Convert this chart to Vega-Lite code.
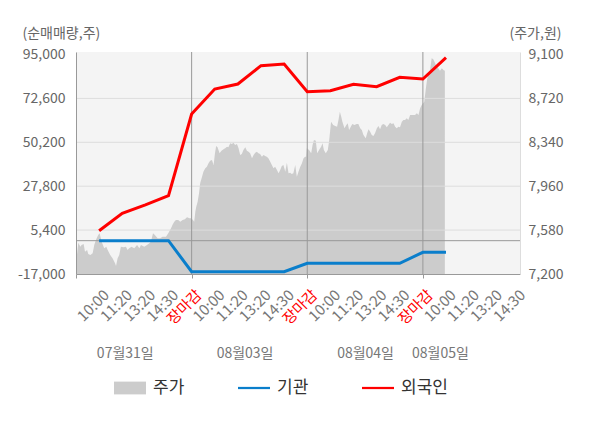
{
  "$schema": "https://vega.github.io/schema/vega-lite/v6.json",
  "width": 444,
  "height": 222,
  "autosize": {"type": "none"},
  "padding": {"left": 76, "top": 52, "right": 80, "bottom": 154},
  "config": {"font": "Noto Sans CJK KR", "view": {"stroke": null, "fill": "#f4f4f4"}},
  "datasets": {
    "price": [
      {"t": 0, "p": 7290}, {"t": 0.1, "p": 7471}, {"t": 0.19, "p": 7436}, {"t": 0.24, "p": 7451},
      {"t": 0.33, "p": 7460}, {"t": 0.39, "p": 7393}, {"t": 0.48, "p": 7408}, {"t": 0.53, "p": 7373},
      {"t": 0.62, "p": 7364}, {"t": 0.72, "p": 7379}, {"t": 0.79, "p": 7451}, {"t": 0.86, "p": 7494},
      {"t": 0.96, "p": 7538}, {"t": 1.02, "p": 7552}, {"t": 1.11, "p": 7480}, {"t": 1.22, "p": 7422},
      {"t": 1.31, "p": 7436}, {"t": 1.37, "p": 7408}, {"t": 1.48, "p": 7364}, {"t": 1.58, "p": 7336},
      {"t": 1.69, "p": 7293}, {"t": 1.73, "p": 7269}, {"t": 1.8, "p": 7336}, {"t": 1.87, "p": 7364},
      {"t": 1.94, "p": 7436}, {"t": 2.06, "p": 7431}, {"t": 2.16, "p": 7436}, {"t": 2.23, "p": 7408},
      {"t": 2.3, "p": 7422}, {"t": 2.4, "p": 7436}, {"t": 2.52, "p": 7422}, {"t": 2.64, "p": 7451},
      {"t": 2.74, "p": 7422}, {"t": 2.81, "p": 7451}, {"t": 2.95, "p": 7436}, {"t": 3.07, "p": 7451},
      {"t": 3.17, "p": 7466}, {"t": 3.24, "p": 7480}, {"t": 3.33, "p": 7552}, {"t": 3.41, "p": 7538},
      {"t": 3.53, "p": 7509}, {"t": 3.64, "p": 7509}, {"t": 3.74, "p": 7523}, {"t": 3.89, "p": 7523},
      {"t": 3.99, "p": 7552}, {"t": 4.11, "p": 7596}, {"t": 4.17, "p": 7624}, {"t": 4.25, "p": 7653},
      {"t": 4.32, "p": 7667}, {"t": 4.42, "p": 7667}, {"t": 4.51, "p": 7653}, {"t": 4.61, "p": 7667},
      {"t": 4.71, "p": 7673}, {"t": 4.8, "p": 7691}, {"t": 4.91, "p": 7682}, {"t": 4.97, "p": 7682},
      {"t": 5.06, "p": 7667}, {"t": 5.11, "p": 7653}, {"t": 5.16, "p": 7739}, {"t": 5.2, "p": 7783},
      {"t": 5.26, "p": 7826}, {"t": 5.32, "p": 7899}, {"t": 5.37, "p": 7985}, {"t": 5.45, "p": 8042},
      {"t": 5.51, "p": 8086}, {"t": 5.59, "p": 8115}, {"t": 5.66, "p": 8129}, {"t": 5.73, "p": 8158},
      {"t": 5.8, "p": 8181}, {"t": 5.88, "p": 8187}, {"t": 5.95, "p": 8144}, {"t": 6.01, "p": 8245},
      {"t": 6.06, "p": 8308}, {"t": 6.12, "p": 8297}, {"t": 6.21, "p": 8245}, {"t": 6.29, "p": 8267},
      {"t": 6.38, "p": 8279}, {"t": 6.45, "p": 8288}, {"t": 6.53, "p": 8302}, {"t": 6.59, "p": 8297},
      {"t": 6.67, "p": 8331}, {"t": 6.74, "p": 8325}, {"t": 6.81, "p": 8337}, {"t": 6.88, "p": 8317},
      {"t": 6.96, "p": 8325}, {"t": 7.03, "p": 8288}, {"t": 7.1, "p": 8230}, {"t": 7.17, "p": 8239},
      {"t": 7.24, "p": 8273}, {"t": 7.32, "p": 8297}, {"t": 7.39, "p": 8267}, {"t": 7.46, "p": 8259},
      {"t": 7.53, "p": 8245}, {"t": 7.61, "p": 8202}, {"t": 7.68, "p": 8230}, {"t": 7.75, "p": 8250},
      {"t": 7.82, "p": 8259}, {"t": 7.89, "p": 8245}, {"t": 7.96, "p": 8239}, {"t": 8.04, "p": 8215},
      {"t": 8.11, "p": 8230}, {"t": 8.18, "p": 8221}, {"t": 8.25, "p": 8215}, {"t": 8.32, "p": 8202},
      {"t": 8.4, "p": 8172}, {"t": 8.47, "p": 8144}, {"t": 8.54, "p": 8115}, {"t": 8.61, "p": 8129},
      {"t": 8.69, "p": 8100}, {"t": 8.76, "p": 8072}, {"t": 8.83, "p": 8100}, {"t": 8.9, "p": 8135},
      {"t": 8.97, "p": 8144}, {"t": 9.05, "p": 8086}, {"t": 9.12, "p": 8163}, {"t": 9.19, "p": 8072},
      {"t": 9.26, "p": 8077}, {"t": 9.33, "p": 8066}, {"t": 9.4, "p": 8072}, {"t": 9.48, "p": 8144},
      {"t": 9.55, "p": 8042}, {"t": 9.62, "p": 8086}, {"t": 9.69, "p": 8124}, {"t": 9.77, "p": 8158},
      {"t": 9.84, "p": 8202}, {"t": 9.91, "p": 8215}, {"t": 9.95, "p": 8215}, {"t": 9.98, "p": 8288},
      {"t": 10.08, "p": 8273}, {"t": 10.17, "p": 8245}, {"t": 10.23, "p": 8317}, {"t": 10.29, "p": 8360},
      {"t": 10.37, "p": 8354}, {"t": 10.43, "p": 8245}, {"t": 10.51, "p": 8273}, {"t": 10.6, "p": 8302},
      {"t": 10.66, "p": 8331}, {"t": 10.72, "p": 8273}, {"t": 10.8, "p": 8245}, {"t": 10.89, "p": 8273},
      {"t": 10.95, "p": 8360}, {"t": 11.03, "p": 8518}, {"t": 11.12, "p": 8490}, {"t": 11.21, "p": 8481},
      {"t": 11.29, "p": 8475}, {"t": 11.35, "p": 8533}, {"t": 11.41, "p": 8605}, {"t": 11.47, "p": 8562},
      {"t": 11.52, "p": 8518}, {"t": 11.61, "p": 8461}, {"t": 11.69, "p": 8490}, {"t": 11.75, "p": 8504},
      {"t": 11.81, "p": 8447}, {"t": 11.9, "p": 8481}, {"t": 11.95, "p": 8498}, {"t": 12.04, "p": 8490},
      {"t": 12.14, "p": 8498}, {"t": 12.21, "p": 8498}, {"t": 12.29, "p": 8461}, {"t": 12.36, "p": 8447},
      {"t": 12.43, "p": 8403}, {"t": 12.53, "p": 8375}, {"t": 12.59, "p": 8418}, {"t": 12.65, "p": 8453},
      {"t": 12.72, "p": 8432}, {"t": 12.79, "p": 8403}, {"t": 12.86, "p": 8395}, {"t": 12.93, "p": 8418},
      {"t": 13.01, "p": 8461}, {"t": 13.08, "p": 8481}, {"t": 13.15, "p": 8453}, {"t": 13.22, "p": 8490},
      {"t": 13.29, "p": 8498}, {"t": 13.37, "p": 8490}, {"t": 13.44, "p": 8470}, {"t": 13.51, "p": 8490},
      {"t": 13.58, "p": 8510}, {"t": 13.66, "p": 8498}, {"t": 13.73, "p": 8504}, {"t": 13.8, "p": 8475},
      {"t": 13.87, "p": 8461}, {"t": 13.94, "p": 8475}, {"t": 14.01, "p": 8470}, {"t": 14.09, "p": 8518},
      {"t": 14.16, "p": 8533}, {"t": 14.23, "p": 8533}, {"t": 14.3, "p": 8548}, {"t": 14.37, "p": 8533},
      {"t": 14.45, "p": 8576}, {"t": 14.55, "p": 8576}, {"t": 14.66, "p": 8576}, {"t": 14.74, "p": 8591},
      {"t": 14.81, "p": 8576}, {"t": 14.88, "p": 8634}, {"t": 14.95, "p": 8663}, {"t": 15.06, "p": 8691},
      {"t": 15.13, "p": 8807}, {"t": 15.18, "p": 8879}, {"t": 15.24, "p": 8937}, {"t": 15.31, "p": 8966},
      {"t": 15.38, "p": 9067}, {"t": 15.45, "p": 9058}, {"t": 15.53, "p": 9024}, {"t": 15.6, "p": 8994},
      {"t": 15.67, "p": 8981}, {"t": 15.74, "p": 8960}, {"t": 15.82, "p": 8981}, {"t": 15.89, "p": 8966},
      {"t": 15.95, "p": 8960}
    ],
    "lines": [
      {"t": 1, "v": 0, "s": "기관"}, {"t": 2, "v": 0, "s": "기관"}, {"t": 3, "v": 0, "s": "기관"},
      {"t": 4, "v": 0, "s": "기관"}, {"t": 5, "v": -15830, "s": "기관"}, {"t": 6, "v": -15830, "s": "기관"},
      {"t": 7, "v": -15830, "s": "기관"}, {"t": 8, "v": -15830, "s": "기관"}, {"t": 9, "v": -15830, "s": "기관"},
      {"t": 10, "v": -11540, "s": "기관"}, {"t": 11, "v": -11540, "s": "기관"}, {"t": 12, "v": -11540, "s": "기관"},
      {"t": 13, "v": -11540, "s": "기관"}, {"t": 14, "v": -11540, "s": "기관"}, {"t": 15, "v": -5930, "s": "기관"},
      {"t": 16, "v": -5930, "s": "기관"},
      {"t": 1, "v": 5100, "s": "외국인"}, {"t": 2, "v": 14000, "s": "외국인"}, {"t": 3, "v": 18300, "s": "외국인"},
      {"t": 4, "v": 22950, "s": "외국인"}, {"t": 5, "v": 64640, "s": "외국인"}, {"t": 6, "v": 77400, "s": "외국인"},
      {"t": 7, "v": 79950, "s": "외국인"}, {"t": 8, "v": 89290, "s": "외국인"}, {"t": 9, "v": 90150, "s": "외국인"},
      {"t": 10, "v": 76020, "s": "외국인"}, {"t": 11, "v": 76530, "s": "외국인"}, {"t": 12, "v": 79800, "s": "외국인"},
      {"t": 13, "v": 78570, "s": "외국인"}, {"t": 14, "v": 83370, "s": "외국인"}, {"t": 15, "v": 82500, "s": "외국인"},
      {"t": 16, "v": 93370, "s": "외국인"}
    ],
    "grid": [{"v": 72600}, {"v": 50200}, {"v": 27800}, {"v": 5400}, {"v": 0}],
    "days": [{"t": 5}, {"t": 10}, {"t": 15}]
  },
  "layer": [
    {
      "data": {"name": "price"},
      "mark": {"type": "area", "color": "#cccccc", "clip": true},
      "encoding": {
        "x": {
          "field": "t",
          "type": "quantitative",
          "scale": {"domain": [0, 19.2], "nice": false, "zero": false},
          "axis": {
            "orient": "bottom",
            "title": null,
            "values": [0, 1, 2, 3, 4, 5, 6, 7, 8, 9, 10, 11, 12, 13, 14, 15, 16, 17, 18, 19],
            "labelExpr": "datum.value === 0 ? '' : ['장마감','10:00','11:20','13:20','14:30'][datum.value % 5]",
            "labelAngle": -45,
            "labelAlign": "right",
            "labelBaseline": "top",
            "labelPadding": 9,
            "labelOffset": 2,
            "labelFontSize": 15,
            "labelColor": {"condition": {"test": "datum.value % 5 === 0", "value": "#ff0000"}, "value": "#777777"},
            "labelOverlap": false,
            "labelFlush": false,
            "labelBound": false,
            "grid": false,
            "domainColor": "#999999",
            "tickColor": "#999999",
            "tickSize": 4,
            "tickOpacity": {"condition": {"test": "datum.value % 5 === 0", "value": 1}, "value": 0},
            "zindex": 1
          }
        },
        "y": {
          "field": "p",
          "type": "quantitative",
          "scale": {"domain": [7200, 9121.6], "nice": false, "zero": false},
          "axis": {
            "orient": "right",
            "title": "(주가,원)",
            "titleAngle": 0,
            "titleAlign": "left",
            "titleBaseline": "middle",
            "titleX": -11,
            "titleY": -19,
            "titleFontSize": 14,
            "titleFontWeight": "normal",
            "titleColor": "#666666",
            "values": [7200, 7580, 7960, 8340, 8720, 9100],
            "labelExpr": "format(datum.value, ',.0f')",
            "labelFontSize": 14,
            "labelColor": "#666666",
            "labelPadding": 8,
            "ticks": false,
            "grid": false,
            "domainColor": "#dddddd",
            "labelOverlap": false,
            "labelFlush": false,
            "zindex": 1
          }
        }
      }
    },
    {
      "layer": [
        {
          "data": {"name": "grid"},
          "mark": {"type": "rule"},
          "encoding": {
            "y": {
              "field": "v",
              "type": "quantitative",
              "scale": {"domain": [-17000, 96276], "nice": false, "zero": false}
            },
            "color": {"condition": {"test": "datum.v === 0", "value": "#999999"}, "value": "#dddddd"}
          }
        },
        {
          "data": {"name": "days"},
          "mark": {"type": "rule", "color": "#999999"},
          "encoding": {
            "x": {
              "field": "t",
              "type": "quantitative",
              "scale": {"domain": [0, 19.2], "nice": false, "zero": false}
            }
          }
        },
        {
          "data": {"name": "lines"},
          "mark": {"type": "line", "strokeWidth": 3},
          "encoding": {
            "x": {
              "field": "t",
              "type": "quantitative",
              "scale": {"domain": [0, 19.2], "nice": false, "zero": false},
              "axis": {
                "orient": "bottom",
                "title": null,
                "values": [2.11, 7.29, 12.5, 15.74],
                "labelExpr": "datum.value < 5 ? '07월31일' : datum.value < 10 ? '08월03일' : datum.value < 15 ? '08월04일' : '08월05일'",
                "labelAngle": 0,
                "labelAlign": "center",
                "labelBaseline": "middle",
                "labelPadding": 79,
                "labelFontSize": 14,
                "labelColor": "#777777",
                "ticks": false,
                "domain": false,
                "grid": false,
                "labelOverlap": false,
                "labelFlush": false,
                "labelBound": false
              }
            },
            "y": {
              "field": "v",
              "type": "quantitative",
              "scale": {"domain": [-17000, 96276], "nice": false, "zero": false},
              "axis": {
                "orient": "left",
                "title": "(순매매량,주)",
                "titleAngle": 0,
                "titleAlign": "left",
                "titleBaseline": "middle",
                "titleX": -54,
                "titleY": -19,
                "titleFontSize": 14,
                "titleFontWeight": "normal",
                "titleColor": "#666666",
                "values": [-17000, 5400, 27800, 50200, 72600, 95000],
                "labelExpr": "replace(format(datum.value, ',.0f'), '\u2212', '-')",
                "labelFontSize": 14,
                "labelColor": "#666666",
                "labelPadding": 11,
                "ticks": false,
                "grid": false,
                "domainColor": "#999999",
                "labelOverlap": false,
                "labelFlush": false,
                "zindex": 1
              }
            },
            "color": {
              "field": "s",
              "type": "nominal",
              "scale": {"domain": ["주가", "기관", "외국인"], "range": ["#cccccc", "#0a7ecb", "#ff0000"]},
              "legend": {
                "title": null,
                "orient": "none",
                "legendX": 38,
                "legendY": 320,
                "direction": "horizontal",
                "columns": 3,
                "gridAlign": "all",
                "labelFontSize": 17,
                "labelColor": "#333333",
                "labelOffset": 7,
                "columnPadding": 38,
                "symbolSize": 1024,
                "symbolType": "M-1,-0.4H1V0.4H-1Z",
                "symbolStrokeWidth": 0,
                "padding": 0,
                "encoding": {
                  "symbols": {
                    "shape": {"value": {"expr": "datum.value === '주가' ? 'M-1,-0.4H1V0.4H-1Z' : 'M-1,-0.07H1V0.07H-1Z'"}},
                    "fill": {"value": {"expr": "datum.value === '주가' ? '#cccccc' : datum.value === '기관' ? '#0a7ecb' : '#ff0000'"}},
                    "opacity": {"value": 1}
                  }
                }
              }
            }
          }
        }
      ]
    }
  ],
  "resolve": {"scale": {"y": "independent"}, "axis": {"x": "independent"}}
}
